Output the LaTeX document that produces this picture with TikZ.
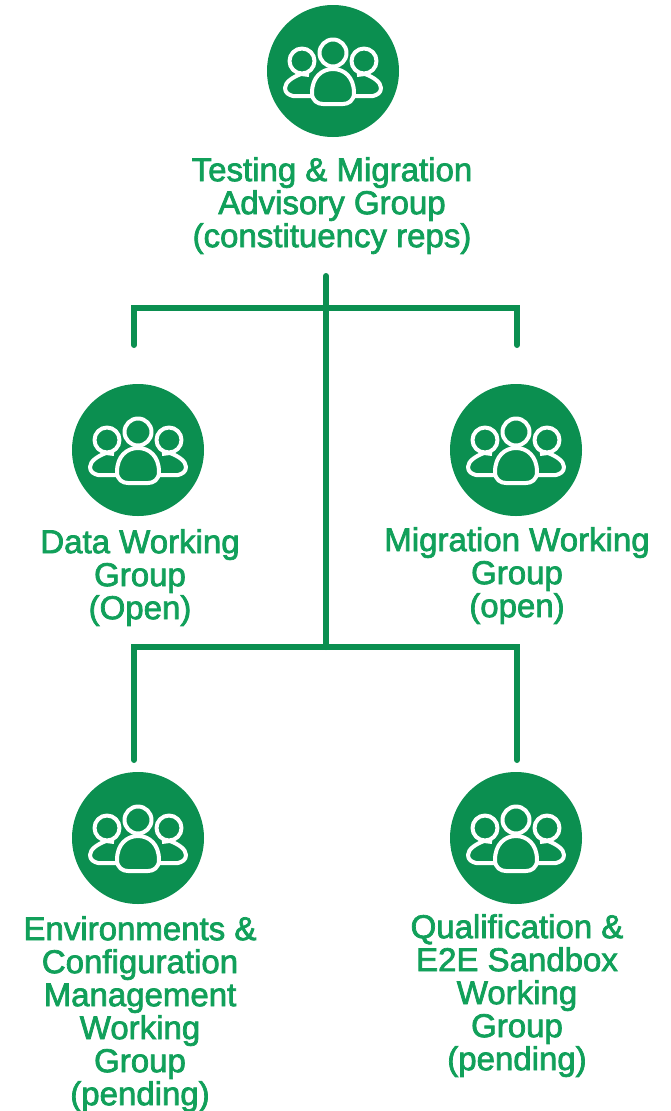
\documentclass[tikz,border=0pt]{standalone}
\usepackage{fontspec}
\setmainfont[FakeBold=2.2]{Liberation Sans}
\definecolor{gcircle}{HTML}{0B8F50}
\definecolor{gtext}{HTML}{11A05A}
\tikzset{
  x=1pt,y=-1pt,
  disc/.style={circle,fill=gcircle,draw=none,minimum size=132pt,inner sep=0pt},
  lbl/.style={text=gtext,align=center,anchor=north,inner sep=0pt,font=\fontsize{33}{33}\selectfont},
  conn/.style={draw=gcircle,line width=6pt,line cap=round,line join=miter},
  peopleicon/.pic={
    \begin{scope}[draw=white,line width=4pt,fill=none,line join=round]
      \draw (0,-18) circle (13.5);
      \draw (-31,-10) circle (12.5);
      \draw (31,-10) circle (12.5);
      \draw (-21,22) .. controls (-21,6) and (-11,-2) .. (0,-2) .. controls (11,-2) and (21,6) .. (21,22)
        .. controls (21,30) and (15,33) .. (10,33) -- (-10,33) .. controls (-15,33) and (-21,30) .. (-21,22) -- cycle;
      \draw (-24,4) -- (-32,3) .. controls (-40,6) and (-48,11) .. (-48,17) .. controls (-48,22) and (-44,24) .. (-40,25) -- (-21,25);
      \draw (24,4) -- (32,3) .. controls (40,6) and (48,11) .. (48,17) .. controls (48,22) and (44,24) .. (40,25) -- (21,25);
    \end{scope}
  }
}
\begin{document}
\begin{tikzpicture}
\useasboundingbox (0,0) rectangle (670,1111);
\node[disc] (top) at (333,71) {};
\pic at (333,71) {peopleicon};
\node[disc] (dwg) at (138,450) {};
\pic at (138,450) {peopleicon};
\node[disc] (mwg) at (516,450) {};
\pic at (516,450) {peopleicon};
\node[disc] (ewg) at (138,838) {};
\pic at (138,838) {peopleicon};
\node[disc] (qwg) at (516,838) {};
\pic at (516,838) {peopleicon};

\node[lbl] (toplbl) at (332,157) {Testing \& Migration\\Advisory Group\\(constituency reps)};
\node[lbl] (dlbl) at (140,529) {Data Working\\Group\\(Open)};
\node[lbl] (mlbl) at (517,527) {Migration Working\\Group\\(open)};
\node[lbl] (elbl) at (140,916) {Environments \&\\Configuration\\Management\\Working\\Group\\(pending)};
\node[lbl] (qlbl) at (517,914) {Qualification \&\\E2E Sandbox\\Working\\Group\\(pending)};

\coordinate (stem) at (326,276);
\coordinate (j1) at (326,308);
\coordinate (j2) at (326,647);
\coordinate (a1) at (134,345);
\coordinate (a2) at (517,345);
\coordinate (b1) at (134,760);
\coordinate (b2) at (517,760);
\draw[conn] (stem) -- (j2);
\draw[conn] (a1) |- (j1) -| (a2);
\draw[conn] (b1) |- (j2) -| (b2);
\end{tikzpicture}
\end{document}
